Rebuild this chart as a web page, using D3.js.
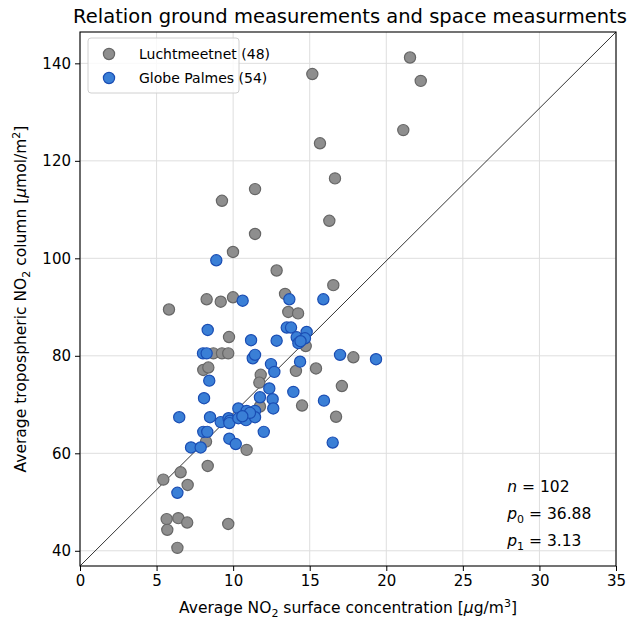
<!DOCTYPE html>
<html>
<head>
<meta charset="utf-8">
<script src="https://cdn.jsdelivr.net/npm/d3@7"></script>
<style>
  body { margin: 0; background: #fff; }
  svg { font-family: "DejaVu Sans", sans-serif; }
</style>
</head>
<body>
<svg id="chart"></svg>
<script>
// Luchtmeetnet stations: [surface NO2, tropospheric column]
var luchtX = [21.55, 22.25, 15.17, 21.11, 15.67, 16.65, 11.43, 9.27, 16.28, 11.43,
              9.99, 12.84, 16.54, 13.39, 8.27, 9.19, 9.99, 5.81, 13.6, 14.24,
              9.73, 14.74, 8.71, 9.27, 9.68, 17.85, 15.41, 8.05, 8.38, 11.8,
              11.71, 14.1, 17.1, 11.75, 14.5, 16.72, 8.23, 10.88, 8.34, 6.57,
              5.44, 7.03, 5.66, 5.7, 6.42, 7.0, 9.68, 6.36];
var luchtY = [141.2, 136.4, 137.8, 126.3, 123.6, 116.4, 114.2, 111.8, 107.7, 105.0,
              101.3, 97.5, 94.5, 92.7, 91.6, 91.1, 92.0, 89.5, 89.0, 88.7,
              83.85, 82.0, 80.5, 80.5, 80.5, 79.7, 77.4, 77.1, 77.6, 76.1,
              74.5, 76.9, 73.8, 69.6, 69.8, 67.5, 62.4, 60.7, 57.4, 56.1,
              54.6, 53.5, 46.5, 44.3, 46.7, 45.8, 45.5, 40.6];

// Globe Palmes tubes
var globeX = [8.9, 10.62, 13.67, 15.89, 8.34, 13.5, 13.78, 14.8, 11.17, 12.84,
              14.15, 14.69, 14.26, 8.03, 8.27, 11.28, 11.43, 16.98, 12.47, 14.37,
              12.69, 8.44, 12.36, 13.93, 8.1, 11.75, 12.58, 12.62, 15.93, 6.48,
              8.49, 9.19, 9.7, 9.79, 9.75, 10.34, 10.88, 11.43, 10.34, 10.84,
              11.43, 8.05, 8.31, 7.25, 7.88, 9.75, 10.17, 12.0, 16.5, 6.36,
              19.33, 11.1, 14.4, 10.6];
var globeY = [99.6, 91.3, 91.6, 91.6, 85.3, 85.8, 85.8, 84.9, 83.2, 83.1,
              83.8, 83.6, 82.6, 80.5, 80.5, 79.5, 80.2, 80.2, 78.3, 78.8,
              76.7, 74.9, 73.3, 72.6, 71.3, 71.5, 71.1, 69.2, 70.8, 67.4,
              67.4, 66.4, 67.2, 66.7, 66.2, 69.2, 68.7, 68.7, 67.2, 66.8,
              67.4, 64.4, 64.4, 61.2, 61.2, 63.0, 61.9, 64.4, 62.2, 51.9,
              79.3, 68.3, 83.0, 67.6];

var seriesNames = ["Luchtmeetnet (48)", "Globe Palmes (54)"];
var xTicks = [0, 5, 10, 15, 20, 25, 30, 35];
var yTicks = [40, 60, 80, 100, 120, 140];
var fitN = 102, fitP0 = 36.88, fitP1 = 3.13;

var width = 632, height = 621;
var margin = {top: 32, right: 16, bottom: 55, left: 80};

var svg = d3.select("#chart")
    .attr("width", width)
    .attr("height", height);

var x = d3.scaleLinear()
    .domain([0, 35])
    .range([margin.left, width - margin.right]);

var y = d3.scaleLinear()
    .domain([fitP0, fitP0 + fitP1 * 35])
    .range([height - margin.bottom, margin.top]);

// grid
svg.append("g")
    .selectAll("line.gx")
    .data(xTicks)
    .enter().append("line")
    .attr("x1", function (d) { return x(d); })
    .attr("x2", function (d) { return x(d); })
    .attr("y1", y.range()[0])
    .attr("y2", y.range()[1])
    .style("stroke", "#dedede")
    .style("stroke-width", 1);

svg.append("g")
    .selectAll("line.gy")
    .data(yTicks)
    .enter().append("line")
    .attr("x1", x.range()[0])
    .attr("x2", x.range()[1])
    .attr("y1", function (d) { return y(d); })
    .attr("y2", function (d) { return y(d); })
    .style("stroke", "#dedede")
    .style("stroke-width", 1);

// fit line
svg.append("line")
    .attr("x1", x(0))
    .attr("y1", y(fitP0))
    .attr("x2", x(35))
    .attr("y2", y(fitP0 + fitP1 * 35))
    .style("stroke", "#000")
    .style("stroke-width", 0.8);

// annotation
function annLine(yv, name, sub, val) {
    var t = svg.append("text")
        .attr("x", x(27.9))
        .attr("y", yv)
        .style("font-size", "15.5px");
    t.append("tspan").style("font-style", "italic").text(name);
    if (sub !== null) {
        t.append("tspan").attr("dy", 4).style("font-size", "11px").text(sub);
        t.append("tspan").attr("dy", -4).text(" = " + val);
    } else {
        t.append("tspan").text(" = " + val);
    }
}
annLine(492, "n", null, fitN);
annLine(519, "p", "0", fitP0.toFixed(2));
annLine(546, "p", "1", fitP1.toFixed(2));

// points
function drawSeries(xs, ys, fill, edge) {
    svg.append("g")
        .selectAll("circle")
        .data(xs)
        .enter().append("circle")
        .attr("cx", function (d) { return x(d); })
        .attr("cy", function (d, i) { return y(ys[i]); })
        .attr("r", 5.6)
        .style("fill", fill)
        .style("stroke", edge)
        .style("stroke-width", 1.2);
}
drawSeries(luchtX, luchtY, "#8e8e8e", "#666666");
drawSeries(globeX, globeY, "#3a7fd6", "#1a4db3");

// axes
var xAxis = d3.axisBottom(x).tickValues(xTicks).tickSize(5).tickPadding(4);
var yAxis = d3.axisLeft(y).tickValues(yTicks).tickSize(5).tickPadding(4);

var gx = svg.append("g")
    .attr("transform", "translate(0," + y.range()[0] + ")")
    .call(xAxis);
var gy = svg.append("g")
    .attr("transform", "translate(" + x.range()[0] + ",0)")
    .call(yAxis);

[gx, gy].forEach(function (g) {
    g.select(".domain").remove();
    g.selectAll("text")
        .style("font-size", "15px")
        .style("font-family", "DejaVu Sans")
        .style("fill", "#000");
    g.selectAll("line").style("stroke", "#000");
});

// frame
svg.append("rect")
    .attr("x", x.range()[0])
    .attr("y", y.range()[1])
    .attr("width", x.range()[1] - x.range()[0])
    .attr("height", y.range()[0] - y.range()[1])
    .style("fill", "none")
    .style("stroke", "#000")
    .style("stroke-width", 1.1);

// legend
var lg = svg.append("g");
lg.append("rect")
    .attr("x", 88)
    .attr("y", 38)
    .attr("width", 151)
    .attr("height", 55)
    .attr("rx", 3)
    .style("fill", "#fff")
    .style("fill-opacity", 0.8)
    .style("stroke", "#d0d0d0");

var legendColors = [["#8e8e8e", "#666666"], ["#3a7fd6", "#1a4db3"]];
seriesNames.forEach(function (name, i) {
    var ly = 54 + i * 24;
    lg.append("circle")
        .attr("cx", 109)
        .attr("cy", ly)
        .attr("r", 5.6)
        .style("fill", legendColors[i][0])
        .style("stroke", legendColors[i][1])
        .style("stroke-width", 1.2);
    lg.append("text")
        .attr("x", 139)
        .attr("y", ly + 5)
        .style("font-size", "14px")
        .text(name);
});

// title
svg.append("text")
    .attr("x", 350)
    .attr("y", 23)
    .attr("text-anchor", "middle")
    .style("font-size", "19.5px")
    .text("Relation ground measurements and space measurments");

// x label
var xl = svg.append("text")
    .attr("x", x(17.5))
    .attr("y", 613)
    .attr("text-anchor", "middle")
    .style("font-size", "15.5px");
xl.append("tspan").text("Average NO");
xl.append("tspan").attr("dy", 4).style("font-size", "11px").text("2");
xl.append("tspan").attr("dy", -4).text(" surface concentration [");
xl.append("tspan").style("font-style", "italic").text("μ");
xl.append("tspan").text("g/m");
xl.append("tspan").attr("dy", -6).style("font-size", "11px").text("3");
xl.append("tspan").attr("dy", 6).text("]");

// y label
var yl = svg.append("text")
    .attr("transform", "translate(26," + (y.range()[0] + y.range()[1]) / 2 + ")rotate(-90)")
    .attr("text-anchor", "middle")
    .style("font-size", "15.5px");
yl.append("tspan").text("Average tropospheric NO");
yl.append("tspan").attr("dy", 4).style("font-size", "11px").text("2");
yl.append("tspan").attr("dy", -4).text(" column [");
yl.append("tspan").style("font-style", "italic").text("μ");
yl.append("tspan").text("mol/m");
yl.append("tspan").attr("dy", -6).style("font-size", "11px").text("2");
yl.append("tspan").attr("dy", 6).text("]");
</script>
</body>
</html>
